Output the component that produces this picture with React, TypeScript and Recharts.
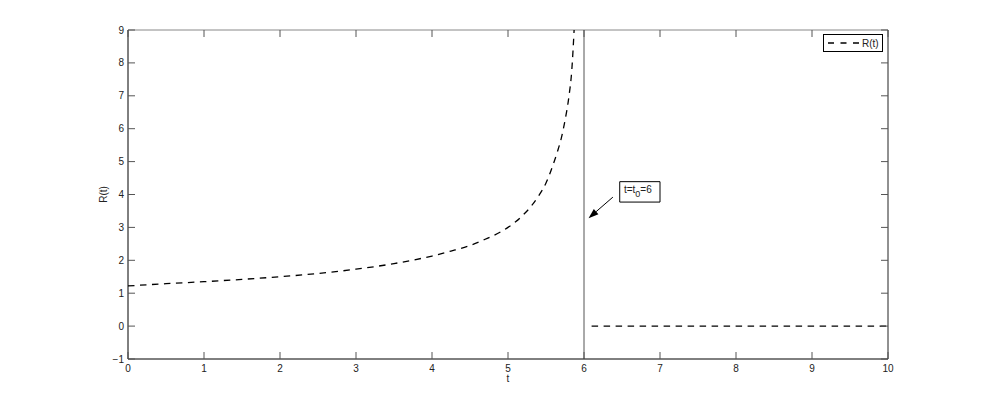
import React from 'react';
import {
    LineChart,
    Line,
    XAxis,
    YAxis,
    ReferenceLine,
    ReferenceArea,
    Legend,
} from 'recharts';

// curve before the blow-up time
const tBefore = [0, 0.5, 1, 1.5, 2, 2.5, 3, 3.5, 4, 4.25, 4.5, 4.7, 4.9, 5, 5.1, 5.2, 5.3, 5.4, 5.5, 5.6, 5.65, 5.7, 5.75, 5.8, 5.84, 5.87];
const rBefore = [1.22, 1.29, 1.35, 1.42, 1.5, 1.6, 1.73, 1.9, 2.13, 2.28, 2.45, 2.64, 2.86, 3.0, 3.17, 3.38, 3.63, 3.95, 4.35, 4.95, 5.3, 5.7, 6.25, 6.95, 7.8, 9.0];

// flat part after t0
const tAfter = [6.1, 7, 8, 9, 10];
const rAfter = [0, 0, 0, 0, 0];

const xTicks = [0, 1, 2, 3, 4, 5, 6, 7, 8, 9, 10];
const yTicks = [-1, 0, 1, 2, 3, 4, 5, 6, 7, 8, 9];

const T0 = 6;
const annotationBox = { x1: 6.47, x2: 7.0, y1: 3.77, y2: 4.39 };
const arrowFrom = { x: 6.38, y: 3.92 };
const arrowTo = { x: 6.06, y: 3.28 };

const W = 981;
const H = 405;
const PLOT_LEFT = 128;
const PLOT_RIGHT = 888;
const PLOT_TOP = 30;
const PLOT_BOTTOM = 359;
const TICK_LEN = 7;
const FONT = '"Liberation Sans", Arial, Helvetica, sans-serif';
const DASH = '6.5 5.5';

const beforeData = tBefore.map((t, i) => ({ t, r: rBefore[i] }));
const afterData = tAfter.map((t, i) => ({ t, r: rAfter[i] }));

const fmt = (v: number) => String(v).replace('-', '\u2212');

const XTick = (props: any) => {
    const { x, payload } = props;
    return (
        <g>
            <line x1={x} x2={x} y1={PLOT_BOTTOM} y2={PLOT_BOTTOM - TICK_LEN} stroke="#555" />
            <line x1={x} x2={x} y1={PLOT_TOP} y2={PLOT_TOP + TICK_LEN} stroke="#555" />
            <text x={x} y={PLOT_BOTTOM + 13} textAnchor="middle" fontSize={10} fontFamily={FONT} fill="#222">
                {fmt(payload.value)}
            </text>
        </g>
    );
};

const YTick = (props: any) => {
    const { y, payload } = props;
    return (
        <g>
            <line x1={PLOT_LEFT} x2={PLOT_LEFT + TICK_LEN} y1={y} y2={y} stroke="#555" />
            <line x1={PLOT_RIGHT} x2={PLOT_RIGHT - TICK_LEN} y1={y} y2={y} stroke="#555" />
            <text x={PLOT_LEFT - 4} y={y + 3.5} textAnchor="end" fontSize={10} fontFamily={FONT} fill="#222">
                {fmt(payload.value)}
            </text>
        </g>
    );
};

const YLabel = (props: any) => {
    const { viewBox } = props;
    const cx = viewBox.x + 15;
    const cy = viewBox.y + viewBox.height / 2;
    return (
        <text
            x={cx}
            y={cy}
            transform={`rotate(-90 ${cx} ${cy})`}
            textAnchor="middle"
            dominantBaseline="central"
            fontSize={10}
            fontFamily={FONT}
            fill="#222"
        >
            R(t)
        </text>
    );
};

const BoxLabel = (props: any) => {
    const { viewBox } = props;
    const cx = viewBox.x + viewBox.width / 2 - 2;
    const cy = viewBox.y + viewBox.height / 2;
    return (
        <text x={cx} y={cy + 1} textAnchor="middle" fontSize={10} fontFamily={FONT} fill="#222">
            t=t
            <tspan dy={4} fontSize={9}>0</tspan>
            <tspan dy={-4}>=6</tspan>
        </text>
    );
};

const Arrow = (props: any) => {
    const { x1, y1, x2, y2 } = props;
    const ang = Math.atan2(y2 - y1, x2 - x1);
    const len = 10;
    const half = 3.5;
    const bx = x2 - len * Math.cos(ang);
    const by = y2 - len * Math.sin(ang);
    const px = -Math.sin(ang) * half;
    const py = Math.cos(ang) * half;
    return (
        <g>
            <line x1={x1} y1={y1} x2={bx} y2={by} stroke="#000" strokeWidth={1} />
            <polygon points={`${x2},${y2} ${bx + px},${by + py} ${bx - px},${by - py}`} fill="#000" />
        </g>
    );
};

const LegendBox = () => (
    <div
        style={{
            border: '1px solid #000',
            background: '#fff',
            width: 58,
            height: 16,
            display: 'flex',
            alignItems: 'center',
            fontFamily: FONT,
            fontSize: 10,
            color: '#222',
        }}
    >
        <svg width={37} height={16}>
            <line x1={4} x2={35} y1={8} y2={8} stroke="#000" strokeWidth={1.3} strokeDasharray="6 6.5" />
        </svg>
        <span style={{ marginLeft: 1 }}>R(t)</span>
    </div>
);

export default function App() {
    return (
        <div style={{ position: 'absolute', left: 0, top: 0, width: W, height: H, background: '#fff' }}>
            <LineChart
                width={W}
                height={H}
                margin={{ top: PLOT_TOP, right: W - PLOT_RIGHT, left: PLOT_LEFT - 40, bottom: H - PLOT_BOTTOM - 30 }}
            >
                <XAxis
                    type="number"
                    dataKey="t"
                    domain={[0, 10]}
                    ticks={xTicks}
                    interval={0}
                    tick={XTick}
                    tickLine={false}
                    axisLine={{ stroke: '#000' }}
                    height={30}
                    label={{ value: 't', position: 'insideBottom', offset: 7, fontSize: 10, fontFamily: FONT, fill: '#222' }}
                />
                <YAxis
                    type="number"
                    domain={[-1, 9]}
                    ticks={yTicks}
                    interval={0}
                    tick={YTick}
                    tickLine={false}
                    axisLine={{ stroke: '#000' }}
                    width={40}
                    allowDataOverflow
                    label={<YLabel />}
                />
                <ReferenceLine y={9} stroke="#888" />
                <ReferenceLine x={10} stroke="#222" />
                <ReferenceLine x={T0} stroke="#555" />
                <Line
                    data={beforeData}
                    dataKey="r"
                    type="monotone"
                    stroke="#000"
                    strokeWidth={1.3}
                    strokeDasharray={DASH}
                    dot={false}
                    activeDot={false}
                    isAnimationActive={false}
                    name="R(t)"
                />
                <Line
                    data={afterData}
                    dataKey="r"
                    type="linear"
                    stroke="#000"
                    strokeWidth={1.3}
                    strokeDasharray={DASH}
                    dot={false}
                    activeDot={false}
                    isAnimationActive={false}
                    legendType="none"
                />
                <ReferenceArea
                    x1={annotationBox.x1}
                    x2={annotationBox.x2}
                    y1={annotationBox.y1}
                    y2={annotationBox.y2}
                    fill="#fff"
                    fillOpacity={1}
                    stroke="#000"
                    strokeWidth={1}
                    label={<BoxLabel />}
                />
                <ReferenceLine
                    segment={[arrowFrom, arrowTo]}
                    stroke="#000"
                    shape={Arrow}
                />
                <Legend
                    layout="horizontal"
                    verticalAlign="middle"
                    align="center"
                    content={LegendBox}
                    wrapperStyle={{ left: 823, top: 34, width: 60, height: 18 }}
                />
            </LineChart>
        </div>
    );
}
